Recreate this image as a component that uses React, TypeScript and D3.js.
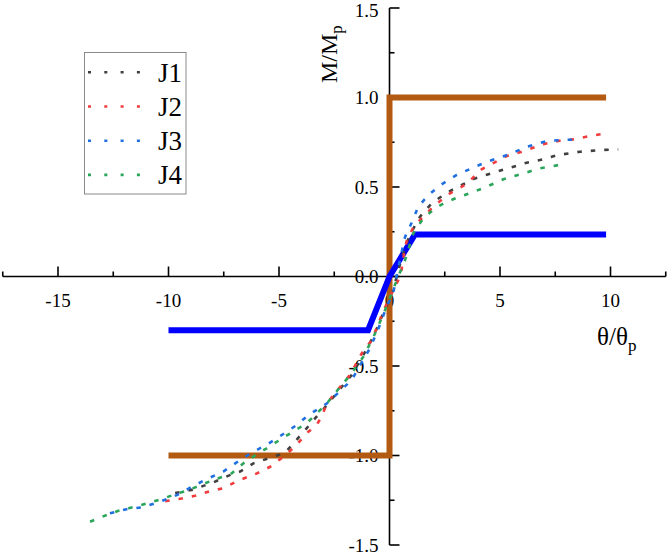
import * as d3 from 'd3';

type Pt = [number, number];

const W = 668;
const H = 555;
const FONT = "'Liberation Serif'";

const X_DOMAIN: [number, number] = [-17.5, 12.5];
const Y_DOMAIN: [number, number] = [-1.5, 1.5];
const X_MAJOR = [-15, -10, -5, 0, 5, 10];
const X_MINOR = [-17.5, -12.5, -7.5, -2.5, 2.5, 7.5, 12.5];
const Y_MAJOR = [-1.5, -1.0, -0.5, 0.0, 0.5, 1.0, 1.5];
const Y_MINOR = [-1.25, -0.75, -0.25, 0.25, 0.75, 1.25];

// idealised models
const rigidPlastic: Pt[] = [[-10, -1.0], [0, -1.0], [0, 1.0], [9.8, 1.0]];
const bilinear: Pt[] = [[-10, -0.3], [-0.97, -0.3], [0, 0], [1.15, 0.235], [9.8, 0.235]];

// test curves
const J1: Pt[] = [
  [-9.7, -1.21], [-8.88, -1.19], [-7.97, -1.15], [-7.14, -1.105], [-6.76, -1.09], [-6.16, -1.044],
  [-5.1, -1.0], [-4.73, -0.985], [-4.28, -0.923], [-3.75, -0.848], [-3.3, -0.783], [-2.84, -0.72],
  [-2.32, -0.64], [-1.71, -0.55], [-1.19, -0.44], [-0.73, -0.336], [-0.28, -0.205], [0.17, -0.075],
  [0.5, 0.08], [0.75, 0.18], [1.0, 0.25], [1.38, 0.334], [1.91, 0.409], [2.59, 0.468], [3.27, 0.511],
  [3.87, 0.548], [4.7, 0.58], [5.53, 0.61], [6.21, 0.636], [6.81, 0.651], [7.64, 0.679], [8.62, 0.697],
  [9.6, 0.707], [10.35, 0.71],
];
const J2: Pt[] = [
  [-10.15, -1.255], [-9.4, -1.24], [-8.8, -1.225], [-8.05, -1.196], [-7.52, -1.183], [-6.84, -1.14],
  [-6.0, -1.1], [-5.4, -1.063], [-4.8, -1.007], [-4.28, -0.951], [-3.75, -0.876], [-3.3, -0.83],
  [-3.07, -0.783], [-2.84, -0.71], [-2.39, -0.64], [-1.79, -0.55], [-1.26, -0.43], [-0.8, -0.355],
  [-0.35, -0.215], [0.02, -0.11], [0.4, -0.02], [0.55, 0.04], [0.65, 0.12], [0.78, 0.2], [1.1, 0.28],
  [1.53, 0.334], [2.06, 0.4], [2.74, 0.465], [3.49, 0.517], [4.17, 0.599], [5.3, 0.673], [5.98, 0.697],
  [7.0, 0.74], [7.87, 0.763], [8.3, 0.766], [9.07, 0.785], [9.6, 0.796],
];
const J3: Pt[] = [
  [-12.65, -1.323], [-11.9, -1.3], [-11.2, -1.29], [-10.38, -1.258], [-9.6, -1.22], [-8.8, -1.165],
  [-8.2, -1.128], [-7.52, -1.09], [-6.76, -1.025], [-6.16, -0.979], [-5.56, -0.94], [-5.1, -0.904],
  [-4.65, -0.867], [-4.2, -0.83], [-3.67, -0.774], [-2.84, -0.71], [-2.24, -0.64], [-1.71, -0.578],
  [-1.19, -0.466], [-0.88, -0.4], [-0.5, -0.29], [-0.13, -0.17], [0.17, -0.09], [0.45, 0.08],
  [0.7, 0.22], [1.0, 0.3], [1.3, 0.39], [1.76, 0.455], [2.36, 0.515], [3.04, 0.567], [3.94, 0.617],
  [4.55, 0.647], [5.45, 0.684], [6.21, 0.725], [7.11, 0.757], [7.87, 0.763], [8.5, 0.765],
];
const J4: Pt[] = [
  [-13.55, -1.37], [-13.0, -1.342], [-12.3, -1.31], [-11.8, -1.295], [-11.37, -1.282], [-10.23, -1.24],
  [-9.78, -1.22], [-9.1, -1.193], [-7.97, -1.137], [-7.14, -1.1], [-6.61, -1.044], [-5.94, -0.988],
  [-5.56, -0.96], [-4.8, -0.9], [-3.75, -0.82], [-2.84, -0.71], [-2.32, -0.63], [-1.71, -0.54],
  [-1.18, -0.448], [-0.66, -0.32], [-0.2, -0.187], [0.33, -0.02], [0.7, 0.09], [1.08, 0.241],
  [1.53, 0.325], [2.06, 0.381], [2.59, 0.418], [3.19, 0.446], [3.64, 0.465], [4.4, 0.502],
  [5.15, 0.543], [6.05, 0.576], [6.81, 0.604], [7.41, 0.617], [8.02, 0.632],
];

const SERIES_NAMES = ['J1', 'J2', 'J3', 'J4'];
const SERIES_DATA = [J1, J2, J3, J4];
const SERIES_COLORS = ['#404040', '#f03c3c', '#1f6fe0', '#2aa55a'];

const x = d3.scaleLinear().domain(X_DOMAIN).range([2.75, 665.75]);
const y = d3.scaleLinear().domain(Y_DOMAIN).range([545, 8]);
const line = d3.line<Pt>().x(d => x(d[0])).y(d => y(d[1]));

export default function App() {
  const x0 = x(0);
  const y0 = y(0);

  return (
    <svg
      width={W}
      height={H}
      style={{ position: 'absolute', left: 0, top: 0, background: '#fff', fontFamily: FONT }}
    >
      {/* axes */}
      <g stroke="#000" strokeWidth={1.6}>
        <line x1={x(X_DOMAIN[0])} x2={x(X_DOMAIN[1])} y1={y0} y2={y0} />
        <line x1={x0} x2={x0} y1={y(Y_DOMAIN[1])} y2={y(Y_DOMAIN[0])} />
        {X_MAJOR.map(v => <line key={`xM${v}`} x1={x(v)} x2={x(v)} y1={y0} y2={y0 - 10} />)}
        {X_MINOR.map(v => <line key={`xm${v}`} x1={x(v)} x2={x(v)} y1={y0} y2={y0 - 5} />)}
        {Y_MAJOR.map(v => <line key={`yM${v}`} x1={x0} x2={x0 + 10} y1={y(v)} y2={y(v)} />)}
        {Y_MINOR.map(v => <line key={`ym${v}`} x1={x0} x2={x0 + 5} y1={y(v)} y2={y(v)} />)}
      </g>

      <g fontSize={19} fill="#000" style={{ fontFamily: FONT }}>
        {X_MAJOR.map(v => (
          <text key={`xl${v}`} x={x(v)} y={y0 + 30} textAnchor="middle">{String(v)}</text>
        ))}
        {Y_MAJOR.map(v => (
          <text key={`yl${v}`} x={x0 - 11} y={Math.max(y(v) + 6.5, 17)} textAnchor="end">{v.toFixed(1)}</text>
        ))}
      </g>

      {/* axis titles */}
      <text transform="translate(337,83) rotate(-90)" fontSize={24} style={{ fontFamily: FONT }}>
        <tspan>M/M</tspan>
        <tspan fontSize={17} dy={5}>p</tspan>
      </text>
      <text x={597} y={345} fontSize={25} style={{ fontFamily: FONT }}>
        <tspan>θ/θ</tspan>
        <tspan fontSize={17} dy={6}>p</tspan>
      </text>

      {/* model lines */}
      <path d={line(rigidPlastic) ?? ''} fill="none" stroke="#b35a12" strokeWidth={6} />
      <path d={line(bilinear) ?? ''} fill="none" stroke="#0000ff" strokeWidth={6} />

      {/* test curves */}
      {SERIES_DATA.map((data, i) => (
        <path
          key={SERIES_NAMES[i]}
          d={line(data) ?? ''}
          fill="none"
          stroke={SERIES_COLORS[i]}
          strokeWidth={2.6}
          strokeDasharray="4.5 9"
        />
      ))}

      {/* legend */}
      <g>
        <rect x={84.5} y={52.5} width={101.5} height={141.5} fill="#fff" stroke="#8a8a8a" strokeWidth={1} />
        {SERIES_NAMES.map((name, i) => {
          const ly = 72.3 + i * 34.2;
          return (
            <g key={name}>
              <line x1={88} x2={140} y1={ly} y2={ly} stroke={SERIES_COLORS[i]} strokeWidth={2.6} strokeDasharray="3 13.3" />
              <text x={158} y={ly + 9.5} fontSize={27} style={{ fontFamily: FONT }}>{name}</text>
            </g>
          );
        })}
      </g>
    </svg>
  );
}
